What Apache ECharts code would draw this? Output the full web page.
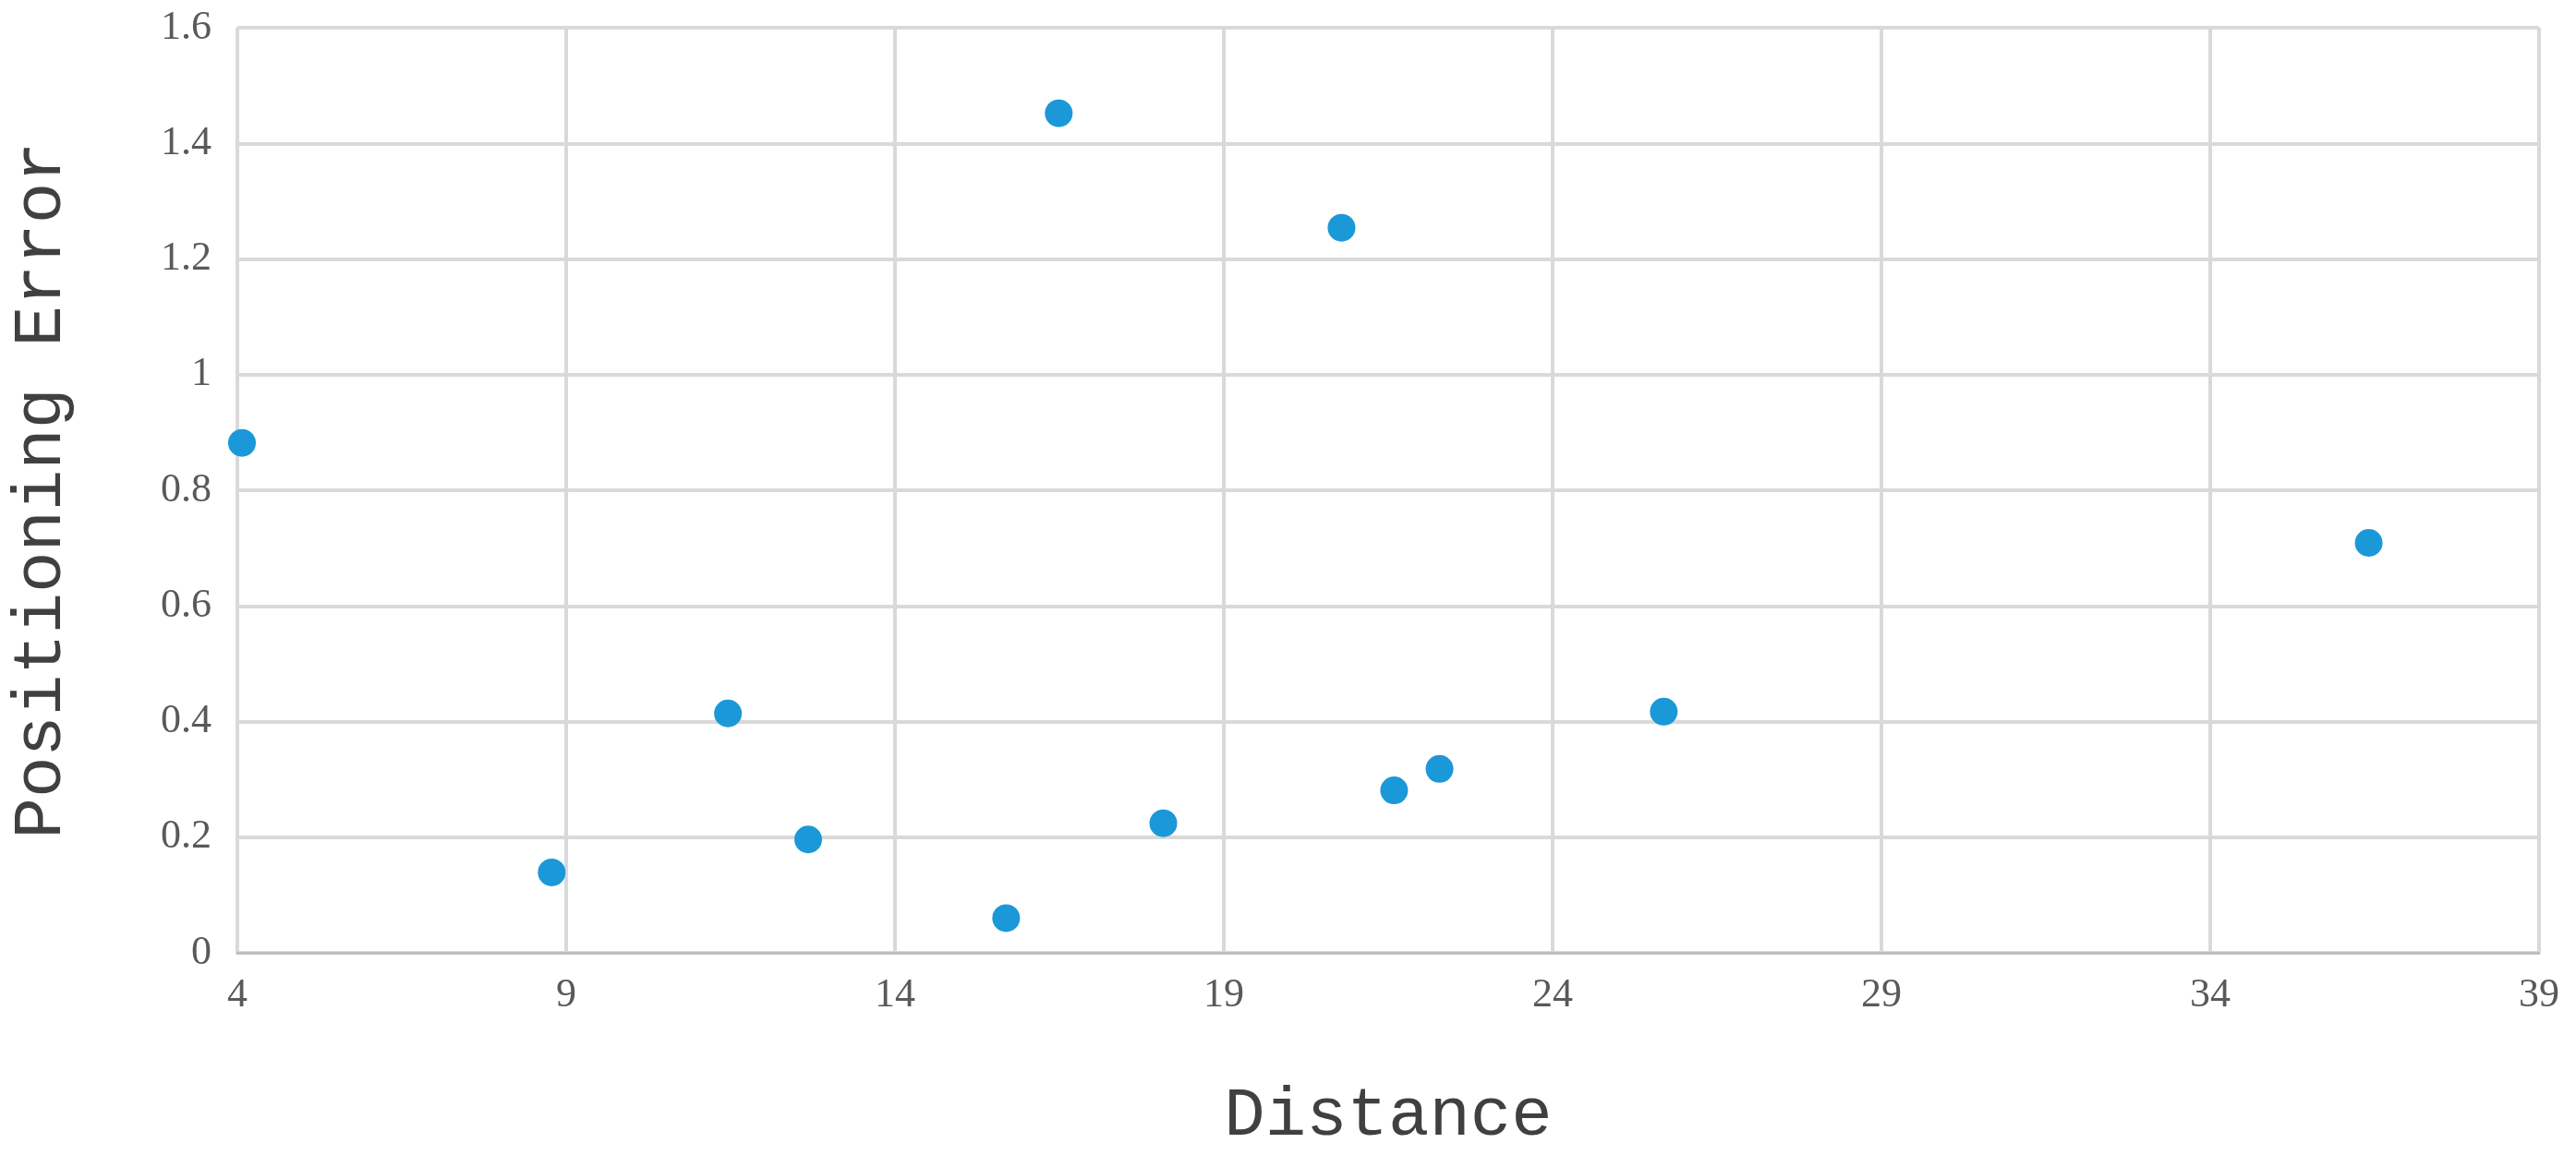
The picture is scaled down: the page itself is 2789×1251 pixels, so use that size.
<!DOCTYPE html>
<html><head><meta charset="utf-8">
<script src="https://cdn.jsdelivr.net/npm/echarts@6/dist/echarts.min.js"></script>
<style>html,body{margin:0;padding:0;background:#fff}#c{width:2789px;height:1251px}</style>
</head><body><div id="c"></div>
<script>
const distance = [4.07, 8.78, 11.46, 12.68, 15.69, 16.49, 18.08, 20.79, 21.59, 22.28, 25.69, 36.41];
const error = [0.882, 0.139, 0.414, 0.196, 0.06, 1.452, 0.224, 1.254, 0.281, 0.318, 0.417, 0.709];
const data = distance.map((d, i) => [d, error[i]]);
const font = "Liberation Mono";
const tickFont = "Liberation Serif";
const chart = echarts.init(document.getElementById('c'));
chart.setOption({
  animation: false,
  grid: {left: 244, right: 40, top: 30, bottom: 217},
  xAxis: {
    type: 'value', min: 4, max: 39, interval: 5,
    name: 'Distance', nameLocation: 'middle', nameGap: 140,
    nameTextStyle: {fontFamily: font, fontSize: 74, color: '#404040'},
    axisLine: {show: true, lineStyle: {color: '#bfbfbf', width: 3}},
    axisTick: {show: false},
    axisLabel: {fontFamily: tickFont, fontSize: 44, color: '#595959', margin: 24},
    splitLine: {show: true, lineStyle: {color: '#d9d9d9', width: 4}}
  },
  yAxis: {
    type: 'value', min: 0, max: 1.6, interval: 0.2,
    name: 'Positioning Error', nameLocation: 'middle', nameGap: 175,
    nameTextStyle: {fontFamily: font, fontSize: 74, color: '#404040'},
    axisLine: {show: false}, axisTick: {show: false},
    axisLabel: {fontFamily: tickFont, fontSize: 44, color: '#595959', margin: 28,
      formatter: v => String(Math.round(v * 10) / 10)},
    splitLine: {show: true, lineStyle: {color: '#d9d9d9', width: 4}}
  },
  series: [{
    type: 'scatter', data: data, symbolSize: 30,
    itemStyle: {color: '#1b98d8', opacity: 1}
  }]
});
</script></body></html>
